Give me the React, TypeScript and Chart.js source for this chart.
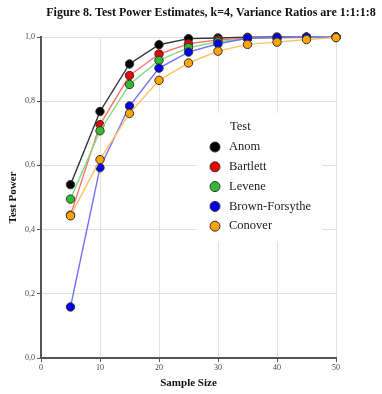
import React, { useEffect, useRef } from "react";
import { Chart, registerables } from "chart.js";

Chart.register(...registerables);

const sampleSizes = [5, 10, 15, 20, 25, 30, 35, 40, 45, 50];
const anom = [0.54, 0.768, 0.916, 0.976, 0.995, 0.997, 0.999, 1.0, 1.0, 1.0];
const bartlett = [0.445, 0.727, 0.88, 0.947, 0.979, 0.991, 0.996, 0.998, 0.999, 1.0];
const levene = [0.495, 0.708, 0.852, 0.927, 0.967, 0.985, 0.995, 0.998, 0.999, 1.0];
const brownForsythe = [0.159, 0.593, 0.785, 0.903, 0.953, 0.979, 0.996, 0.998, 0.999, 1.0];
const conover = [0.443, 0.618, 0.762, 0.865, 0.919, 0.956, 0.977, 0.984, 0.992, 0.998];

const seriesNames = ["Anom", "Bartlett", "Levene", "Brown-Forsythe", "Conover"];
const seriesValues = [anom, bartlett, levene, brownForsythe, conover];
const pointColors = ["#000000", "#ee0000", "#33bb33", "#0000ee", "#ffa500"];
const lineColors = ["#333333", "#ff7070", "#80dd80", "#7070ff", "#ffc060"];

const titleText = "Figure 8. Test Power Estimates, k=4, Variance Ratios are 1:1:1:8";
const legendTitle = "Test";
const xTitle = "Sample Size";
const yTitle = "Test Power";

const titlePlugin = {
  id: "figTitle",
  afterDraw(chart: any) {
    const ctx = chart.ctx;
    ctx.save();
    ctx.font = "bold 12px 'Liberation Serif', serif";
    ctx.fillStyle = "#111";
    ctx.textAlign = "center";
    ctx.textBaseline = "middle";
    ctx.fillText(titleText, 211, 13);
    ctx.restore();
  },
};

const legendPlugin = {
  id: "boxLegend",
  afterDraw(chart: any) {
    const ctx = chart.ctx;
    const x0 = 197, y0 = 113, w = 125, h = 129;
    ctx.save();
    ctx.fillStyle = "#ffffff";
    ctx.fillRect(x0, y0, w, h);
    ctx.font = "12.5px 'Liberation Serif', serif";
    ctx.fillStyle = "#222";
    ctx.textBaseline = "middle";
    ctx.textAlign = "left";
    ctx.fillText(legendTitle, 230, 127);
    const items = [...chart.data.datasets].sort((a: any, b: any) => b.order - a.order);
    items.forEach((ds: any, i: number) => {
      const cy = 147 + i * 19.8;
      ctx.beginPath();
      ctx.arc(215, cy, 5, 0, Math.PI * 2);
      ctx.fillStyle = ds.pointBackgroundColor;
      ctx.fill();
      ctx.lineWidth = 1;
      ctx.strokeStyle = "#333";
      ctx.stroke();
      ctx.fillStyle = "#222";
      ctx.fillText(ds.label, 229, cy);
    });
    ctx.restore();
  },
};

export default function App() {
  const ref = useRef<HTMLCanvasElement | null>(null);
  useEffect(() => {
    document.body.style.margin = "0";
    const canvas = ref.current!;
    const chart = new Chart(canvas, {
      type: "line",
      data: {
        datasets: seriesNames.map((name, i) => ({
          label: name,
          order: seriesNames.length - i,
          data: sampleSizes.map((x, j) => ({ x, y: seriesValues[i][j] })),
          borderColor: lineColors[i],
          backgroundColor: pointColors[i],
          pointBackgroundColor: pointColors[i],
          pointBorderColor: "#333",
          pointBorderWidth: 1,
          pointRadius: 4.2,
          borderWidth: 1.4,
          tension: 0,
          clip: false,
        })),
      },
      options: {
        animation: false,
        responsive: false,
        layout: { padding: { left: 0, right: 46, top: 37, bottom: 0 } },
        plugins: {
          legend: { display: false },
          title: { display: false },
          tooltip: { enabled: false },
        },
        scales: {
          x: {
            type: "linear",
            min: 0,
            max: 50,
            ticks: {
              stepSize: 10,
              color: "#444",
              font: { family: "'Liberation Serif', serif", size: 8 },
              padding: 1,
            },
            grid: { color: "#e2e2e2", tickColor: "#555", tickLength: 4 },
            border: { color: "#555", width: 2 },
            title: {
              display: true,
              text: xTitle,
              color: "#111",
              font: { family: "'Liberation Serif', serif", size: 11, weight: "bold" },
              padding: { top: 0, bottom: 4.4 },
            },
            afterFit(scale: any) {
              scale.height = 36;
            },
          },
          y: {
            min: 0,
            max: 1,
            ticks: {
              stepSize: 0.2,
              color: "#444",
              font: { family: "'Liberation Serif', serif", size: 8 },
              padding: 2,
              callback: (v: any) => Number(v).toFixed(1).replace(".", ","),
            },
            grid: { color: "#e2e2e2", tickColor: "#555", tickLength: 4 },
            border: { color: "#555", width: 2 },
            title: {
              display: true,
              text: yTitle,
              color: "#111",
              font: { family: "'Liberation Serif', serif", size: 11, weight: "bold" },
              padding: { top: 6.4, bottom: 0 },
            },
            afterFit(scale: any) {
              scale.width = 41;
            },
          },
        },
      },
      plugins: [titlePlugin, legendPlugin],
    });
    return () => chart.destroy();
  }, []);
  return (
    <div style={{ position: "fixed", left: 0, top: 0, width: 382, height: 394, background: "#fff" }}>
      <canvas ref={ref} width={382} height={394} style={{ display: "block" }} />
    </div>
  );
}
